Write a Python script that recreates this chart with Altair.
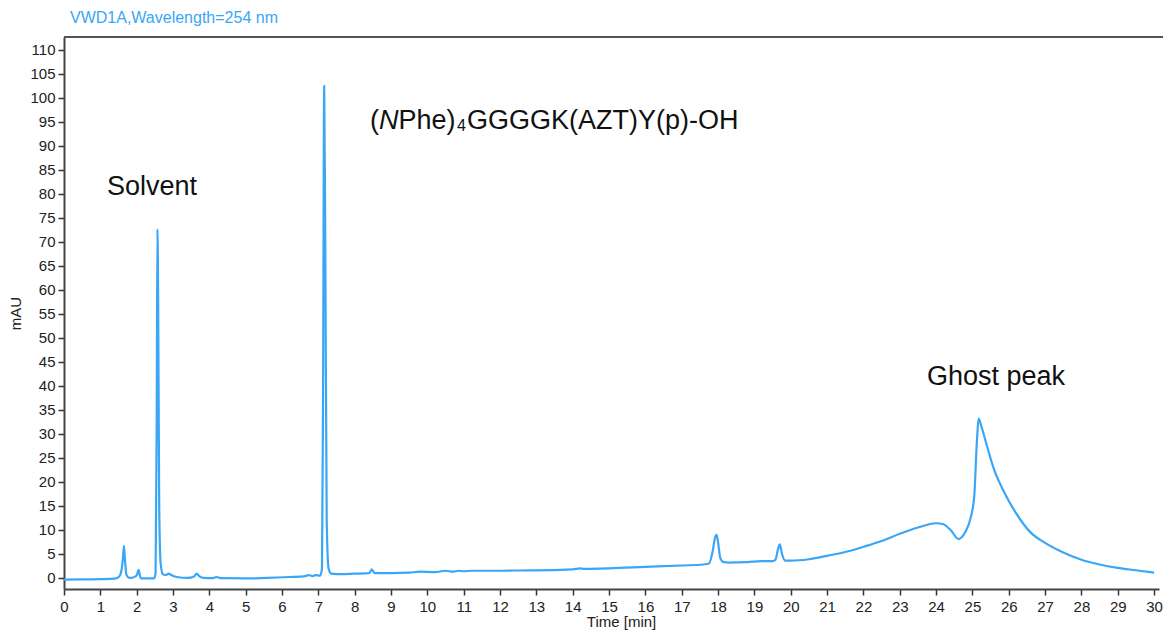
import altair as alt
import pandas as pd

# ---- data ----
time_min = [0, 0.5, 1.0, 1.4, 1.52, 1.58, 1.62, 1.65, 1.68, 1.72, 1.8, 1.9, 2.0, 2.04, 2.06,
            2.09, 2.12, 2.3, 2.48, 2.52, 2.55, 2.57, 2.59, 2.62, 2.66, 2.72, 2.8, 2.88, 2.95,
            3.1, 3.4, 3.58, 3.65, 3.72, 3.85, 4.1, 4.2, 4.3, 5.0, 5.6, 6.2, 6.65, 6.72, 6.85,
            6.92, 7.05, 7.1, 7.13, 7.16, 7.19, 7.23, 7.28, 7.35, 7.5, 8.0, 8.4, 8.47, 8.55,
            9.0, 9.5, 9.8, 10.2, 10.5, 10.7, 10.85, 11.0, 11.2, 12.0, 12.8, 13.0, 14.0, 14.2,
            14.3, 15.0, 16.0, 17.0, 17.6, 17.75, 17.85, 17.92, 17.96, 18.0, 18.06, 18.15, 18.3,
            18.8, 19.2, 19.5, 19.58, 19.65, 19.7, 19.76, 19.85, 20.0, 20.5, 21.0, 21.5, 22.0,
            22.5, 23.0, 23.5, 24.0, 24.2, 24.4, 24.62, 24.8, 24.95, 25.05, 25.12, 25.17, 25.25,
            25.4, 25.6, 25.9, 26.2, 26.6, 27.0, 27.5, 28.0, 28.5, 29.0, 29.5, 30.0]
mau = [-0.35, -0.3, -0.25, -0.15, 0.3, 1.5, 4.0, 6.7, 3.5, 0.6, 0.0, 0.1, 0.5, 1.5, 1.7,
       0.4, -0.1, -0.1, -0.1, 1.0, 30, 72.7, 60, 15, 3, 0.8, 0.6, 0.9, 0.6,
       0.2, 0.0, 0.3, 0.9, 0.4, 0.0, -0.05, 0.2, -0.05, -0.1, 0.0, 0.2, 0.4, 0.6, 0.4,
       0.6, 0.5, 2, 40, 102.5, 70, 12, 2, 0.9, 0.8, 0.9, 1.0, 1.8, 1.0,
       1.0, 1.1, 1.3, 1.2, 1.5, 1.3, 1.5, 1.4, 1.5, 1.5, 1.6, 1.6, 1.8, 2.0,
       1.9, 2.0, 2.3, 2.6, 2.8, 3.0, 5.5, 8.5, 9.0, 7.5, 4.2, 3.3, 3.2,
       3.3, 3.5, 3.5, 3.8, 6.0, 7.0, 5.0, 3.6, 3.6, 3.9, 4.6, 5.4, 6.5,
       7.7, 9.2, 10.5, 11.4, 11.2, 10.0, 8.1, 9.5, 12.5, 17, 28, 33.2, 31.5,
       27.5, 22.5, 17.5, 13.5, 9.5, 7.3, 5.3, 3.8, 2.8, 2.1, 1.6, 1.1]

# annotation labels (text, x in min, y in mAU)
ann_text = ["Solvent", "Ghost peak"]
ann_x = [1.18, 23.75]
ann_y = [79.8, 40.2]

chem_parts = ["(", "N", "Phe)", "4", "GGGGK(AZT)Y(p)-OH"]
chem_x = 8.42
chem_y = 93.5

x_ticks = list(range(0, 31))
y_ticks = list(range(0, 115, 5))

BLUE = "#3aa6f6"
FONT = "Liberation Sans"
W, H = 1095, 552
RIGHT_PAD = 4

df = pd.DataFrame({"t": time_min, "y": mau})
ann = pd.DataFrame({"text": ann_text, "t": ann_x, "y": ann_y})

xs = alt.Scale(domain=[0, 30.135], nice=False, zero=False)
ys = alt.Scale(domain=[-2.3, 112.7], nice=False, zero=False)
x_axis = alt.Axis(values=x_ticks, title="Time [min]", titleX=557, titlePadding=0,
                  labelPadding=4, format="d", labelOverlap=False, labelFlush=False,
                  labelFontSize=15, titleFontSize=15)
y_axis = alt.Axis(values=y_ticks, title="mAU", titlePadding=6, labelPadding=3, format="d",
                  labelOverlap=False, labelFlush=False, labelFontSize=15, titleFontSize=15)


def X():
    return alt.X("t:Q", scale=xs, axis=x_axis, title="Time [min]")


def Y():
    return alt.Y("y:Q", scale=ys, axis=y_axis, title="mAU")


line = alt.Chart(df).mark_line(color=BLUE, strokeWidth=2.2, interpolate="monotone", clip=True).encode(
    x=X(), y=Y())

labels = alt.Chart(ann).mark_text(align="left", baseline="alphabetic", fontSize=27,
                                  font=FONT, color="#111").encode(x=X(), y=Y(), text="text:N")

chem_df = pd.DataFrame({"t": [chem_x], "y": [chem_y]})
dxs = [0, 9, 28.5, 87, 97]
layers = [line, labels]
for part, dx in zip(chem_parts, dxs):
    is_sub = part == "4"
    layers.append(
        alt.Chart(chem_df).mark_text(
            align="left", baseline="alphabetic", font=FONT, color="#111",
            fontSize=16 if is_sub else 27, dx=dx, dy=2 if is_sub else 0,
            fontStyle="italic" if part == "N" else "normal", text=part,
        ).encode(x=X(), y=Y())
    )

top_rule = alt.Chart(chem_df).mark_rule(color="#555", strokeWidth=2).encode(
    x=alt.value(0), x2=alt.value(W + RIGHT_PAD), y=alt.value(0))
layers.append(top_rule)

chart = alt.layer(*layers).properties(
    width=W, height=H,
    autosize=alt.AutoSizeParams(type="none"),
    padding={"left": 56, "top": 29, "right": RIGHT_PAD, "bottom": 44},
    title=alt.TitleParams("VWD1A,Wavelength=254 nm", anchor="start", frame="group", dx=6,
                          offset=10, fontSize=16, font=FONT, fontWeight="normal", color=BLUE),
    background="white",
).configure_view(stroke=None).configure_axis(
    grid=False, labelFont=FONT, titleFont=FONT, labelFontSize=15, titleFontSize=15,
    titleFontWeight="normal", labelColor="#222", titleColor="#222", domainColor="#444",
    domainWidth=2, tickColor="#333", tickWidth=1.5, tickSize=6, labelOverlap=False,
)

chart.save("out.html", embed_options={"renderer": "svg", "actions": False})
